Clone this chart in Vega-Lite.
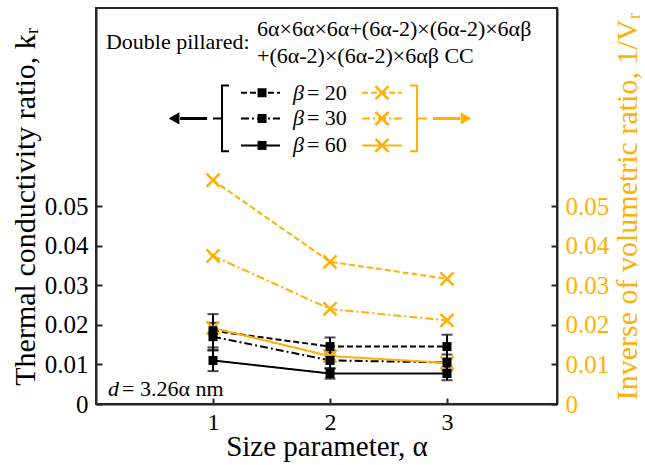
{
  "$schema": "https://vega.github.io/schema/vega-lite/v6.json",
  "width": 461,
  "height": 396,
  "autosize": {"type": "none"},
  "padding": {"left": 96, "top": 8, "right": 88, "bottom": 61},
  "background": "white",
  "config": {
    "font": "Liberation Serif",
    "view": {"stroke": "#262626", "strokeWidth": 2},
    "axis": {
      "grid": false,
      "domainColor": "#262626",
      "domainWidth": 2,
      "tickColor": "#262626",
      "tickWidth": 2,
      "tickSize": -6,
      "labelPadding": 14,
      "labelFont": "Liberation Serif",
      "labelFontSize": 25,
      "labelColor": "black",
      "titleFont": "Liberation Serif",
      "titleFontSize": 30,
      "titleFontWeight": "normal",
      "titleColor": "black"
    },
    "axisBottom": {"labelFontSize": 24, "labelPadding": 12, "titleFontSize": 29},
    "axisRight": {"labelColor": "#FFB000", "titleColor": "#FFB000", "titleAngle": 270, "titleBaseline": "top"},
    "text": {"font": "Liberation Serif", "fontSize": 22, "color": "black"}
  },
  "datasets": {
    "kr": [
      {"x": 1, "beta": "20", "y": 0.0185, "lo": 0.0143, "hi": 0.0227},
      {"x": 2, "beta": "20", "y": 0.0145, "lo": 0.0122, "hi": 0.0168},
      {"x": 3, "beta": "20", "y": 0.0145, "lo": 0.0115, "hi": 0.0175},
      {"x": 1, "beta": "30", "y": 0.0170, "lo": 0.0135, "hi": 0.0205},
      {"x": 2, "beta": "30", "y": 0.0110, "lo": 0.0090, "hi": 0.0130},
      {"x": 3, "beta": "30", "y": 0.0105, "lo": 0.0085, "hi": 0.0125},
      {"x": 1, "beta": "60", "y": 0.0110, "lo": 0.0083, "hi": 0.0137},
      {"x": 2, "beta": "60", "y": 0.0077, "lo": 0.0064, "hi": 0.0090},
      {"x": 3, "beta": "60", "y": 0.0077, "lo": 0.0060, "hi": 0.0092}
    ],
    "vr": [
      {"x": 1, "beta": "20", "y": 0.0565},
      {"x": 2, "beta": "20", "y": 0.0359},
      {"x": 3, "beta": "20", "y": 0.0316},
      {"x": 1, "beta": "30", "y": 0.0374},
      {"x": 2, "beta": "30", "y": 0.0240},
      {"x": 3, "beta": "30", "y": 0.0211},
      {"x": 1, "beta": "60", "y": 0.0192},
      {"x": 2, "beta": "60", "y": 0.0121},
      {"x": 3, "beta": "60", "y": 0.0104}
    ],
    "legLines": [
      {"side": "k", "beta": "20", "x": 1.239, "y": 0.0786},
      {"side": "k", "beta": "20", "x": 1.573, "y": 0.0786},
      {"side": "k", "beta": "30", "x": 1.239, "y": 0.0721},
      {"side": "k", "beta": "30", "x": 1.573, "y": 0.0721},
      {"side": "k", "beta": "60", "x": 1.239, "y": 0.0653},
      {"side": "k", "beta": "60", "x": 1.573, "y": 0.0653},
      {"side": "v", "beta": "20", "x": 2.274, "y": 0.0786},
      {"side": "v", "beta": "20", "x": 2.615, "y": 0.0786},
      {"side": "v", "beta": "30", "x": 2.274, "y": 0.0721},
      {"side": "v", "beta": "30", "x": 2.615, "y": 0.0721},
      {"side": "v", "beta": "60", "x": 2.274, "y": 0.0653},
      {"side": "v", "beta": "60", "x": 2.615, "y": 0.0653}
    ],
    "legSquares": [
      {"beta": "20", "x": 1.419, "y": 0.0786},
      {"beta": "30", "x": 1.419, "y": 0.0721},
      {"beta": "60", "x": 1.419, "y": 0.0653}
    ],
    "legCrosses": [
      {"beta": "20", "x": 2.444, "y": 0.0786},
      {"beta": "30", "x": 2.444, "y": 0.0721},
      {"beta": "60", "x": 2.444, "y": 0.0653}
    ],
    "brackets": [
      {"side": "k", "o": 1, "x": 1.137, "y": 0.0804},
      {"side": "k", "o": 2, "x": 1.077, "y": 0.0804},
      {"side": "k", "o": 3, "x": 1.077, "y": 0.0638},
      {"side": "k", "o": 4, "x": 1.137, "y": 0.0638},
      {"side": "v", "o": 1, "x": 2.684, "y": 0.0804},
      {"side": "v", "o": 2, "x": 2.744, "y": 0.0804},
      {"side": "v", "o": 3, "x": 2.744, "y": 0.0638},
      {"side": "v", "o": 4, "x": 2.684, "y": 0.0638}
    ],
    "stubs": [
      {"side": "k", "x": 1.0, "x2": 1.077, "y": 0.0721},
      {"side": "v", "x": 2.744, "x2": 2.829, "y": 0.0721}
    ],
    "shafts": [
      {"side": "k", "x": 0.718, "x2": 0.949, "y": 0.0721},
      {"side": "v", "x": 2.880, "x2": 3.111, "y": 0.0721}
    ],
    "heads": [
      {"side": "k", "x": 0.667, "y": 0.0721},
      {"side": "v", "x": 3.162, "y": 0.0721}
    ],
    "texts": [
      {"label": "Double pillared:", "x": 0.085, "y": 0.0913},
      {"label": "= 3.26α nm", "x": 0.222, "y": 0.0037},
      {"label": "= 20", "x": 1.803, "y": 0.0786},
      {"label": "= 30", "x": 1.803, "y": 0.0721},
      {"label": "= 60", "x": 1.803, "y": 0.0653}
    ],
    "formula": [
      {"label": "6α×6α×6α+(6α-2)×(6α-2)×6αβ", "x": 1.376, "y": 0.0946},
      {"label": "+(6α-2)×(6α-2)×6αβ CC", "x": 1.376, "y": 0.0878}
    ],
    "italics": [
      {"label": "d", "x": 0.103, "y": 0.0037},
      {"label": "β", "x": 1.684, "y": 0.0786},
      {"label": "β", "x": 1.684, "y": 0.0721},
      {"label": "β", "x": 1.684, "y": 0.0653}
    ]
  },
  "encoding": {
    "x": {
      "field": "x",
      "type": "quantitative",
      "scale": {"domain": [0, 3.94], "nice": false, "zero": false},
      "axis": {"values": [1, 2, 3], "title": "Size parameter, α", "titlePadding": -2}
    }
  },
  "layer": [
    {
      "layer": [
        {
          "data": {"name": "kr"},
          "mark": {"type": "line", "color": "black", "strokeWidth": 2},
          "encoding": {
            "y": {"field": "y", "type": "quantitative", "scale": {"domain": [0, 0.1], "nice": false}, "axis": {"orient": "left", "values": [0, 0.01, 0.02, 0.03, 0.04, 0.05], "labelExpr": "datum.value == 0 ? '0' : format(datum.value, '.2f')", "title": "Thermal conductivity ratio, kᵣ"}},
            "strokeDash": {
              "field": "beta",
              "type": "nominal",
              "scale": {"domain": ["20", "30", "60"], "range": [[6, 3], [8, 3, 2, 3], [1, 0]]},
              "legend": null
            }
          }
        },
        {
          "data": {"name": "kr"},
          "mark": {"type": "rule", "color": "black", "strokeWidth": 2},
          "encoding": {
            "y": {"field": "lo", "type": "quantitative", "scale": {"domain": [0, 0.1], "nice": false}, "axis": {"orient": "left", "values": [0, 0.01, 0.02, 0.03, 0.04, 0.05], "labelExpr": "datum.value == 0 ? '0' : format(datum.value, '.2f')", "title": "Thermal conductivity ratio, kᵣ"}},
            "y2": {"field": "hi"}
          }
        },
        {
          "data": {"name": "kr"},
          "mark": {"type": "tick", "orient": "horizontal", "color": "black", "size": 11, "thickness": 2},
          "encoding": {
            "y": {"field": "lo", "type": "quantitative", "scale": {"domain": [0, 0.1], "nice": false}, "axis": {"orient": "left", "values": [0, 0.01, 0.02, 0.03, 0.04, 0.05], "labelExpr": "datum.value == 0 ? '0' : format(datum.value, '.2f')", "title": "Thermal conductivity ratio, kᵣ"}}
          }
        },
        {
          "data": {"name": "kr"},
          "mark": {"type": "tick", "orient": "horizontal", "color": "black", "size": 11, "thickness": 2},
          "encoding": {
            "y": {"field": "hi", "type": "quantitative", "scale": {"domain": [0, 0.1], "nice": false}, "axis": {"orient": "left", "values": [0, 0.01, 0.02, 0.03, 0.04, 0.05], "labelExpr": "datum.value == 0 ? '0' : format(datum.value, '.2f')", "title": "Thermal conductivity ratio, kᵣ"}}
          }
        },
        {
          "data": {"name": "legLines"},
          "mark": {"type": "line", "strokeWidth": 2},
          "encoding": {
            "y": {"field": "y", "type": "quantitative", "scale": {"domain": [0, 0.1], "nice": false}, "axis": {"orient": "left", "values": [0, 0.01, 0.02, 0.03, 0.04, 0.05], "labelExpr": "datum.value == 0 ? '0' : format(datum.value, '.2f')", "title": "Thermal conductivity ratio, kᵣ"}},
            "strokeDash": {"field": "beta", "type": "nominal", "legend": null},
            "color": {"field": "side", "type": "nominal", "scale": {"domain": ["k", "v"], "range": ["black", "#FFB000"]}, "legend": null},
            "detail": {"field": "beta"}
          }
        },
        {
          "data": {"name": "legSquares"},
          "mark": {"type": "point", "shape": "square", "filled": true, "color": "black", "size": 81, "opacity": 1},
          "encoding": {
            "y": {"field": "y", "type": "quantitative", "scale": {"domain": [0, 0.1], "nice": false}, "axis": {"orient": "left", "values": [0, 0.01, 0.02, 0.03, 0.04, 0.05], "labelExpr": "datum.value == 0 ? '0' : format(datum.value, '.2f')", "title": "Thermal conductivity ratio, kᵣ"}}
          }
        },
        {
          "data": {"name": "legCrosses"},
          "mark": {"type": "point", "shape": "M-1,-1L1,1M-1,1L1,-1", "filled": false, "color": "#FFB000", "size": 170, "strokeWidth": 2.5, "opacity": 1},
          "encoding": {
            "y": {"field": "y", "type": "quantitative", "scale": {"domain": [0, 0.1], "nice": false}, "axis": {"orient": "left", "values": [0, 0.01, 0.02, 0.03, 0.04, 0.05], "labelExpr": "datum.value == 0 ? '0' : format(datum.value, '.2f')", "title": "Thermal conductivity ratio, kᵣ"}}
          }
        },
        {
          "data": {"name": "brackets"},
          "mark": {"type": "line", "strokeWidth": 2},
          "encoding": {
            "y": {"field": "y", "type": "quantitative", "scale": {"domain": [0, 0.1], "nice": false}, "axis": {"orient": "left", "values": [0, 0.01, 0.02, 0.03, 0.04, 0.05], "labelExpr": "datum.value == 0 ? '0' : format(datum.value, '.2f')", "title": "Thermal conductivity ratio, kᵣ"}},
            "order": {"field": "o"},
            "color": {"field": "side", "type": "nominal", "legend": null}
          }
        },
        {
          "data": {"name": "stubs"},
          "mark": {"type": "rule", "strokeWidth": 2},
          "encoding": {
            "x2": {"field": "x2"},
            "y": {"field": "y", "type": "quantitative", "scale": {"domain": [0, 0.1], "nice": false}, "axis": {"orient": "left", "values": [0, 0.01, 0.02, 0.03, 0.04, 0.05], "labelExpr": "datum.value == 0 ? '0' : format(datum.value, '.2f')", "title": "Thermal conductivity ratio, kᵣ"}},
            "color": {"field": "side", "type": "nominal", "legend": null}
          }
        },
        {
          "data": {"name": "shafts"},
          "mark": {"type": "rule", "strokeWidth": 3},
          "encoding": {
            "x2": {"field": "x2"},
            "y": {"field": "y", "type": "quantitative", "scale": {"domain": [0, 0.1], "nice": false}, "axis": {"orient": "left", "values": [0, 0.01, 0.02, 0.03, 0.04, 0.05], "labelExpr": "datum.value == 0 ? '0' : format(datum.value, '.2f')", "title": "Thermal conductivity ratio, kᵣ"}},
            "color": {"field": "side", "type": "nominal", "legend": null}
          }
        },
        {
          "data": {"name": "heads"},
          "mark": {"type": "point", "filled": true, "size": 150, "opacity": 1},
          "encoding": {
            "y": {"field": "y", "type": "quantitative", "scale": {"domain": [0, 0.1], "nice": false}, "axis": {"orient": "left", "values": [0, 0.01, 0.02, 0.03, 0.04, 0.05], "labelExpr": "datum.value == 0 ? '0' : format(datum.value, '.2f')", "title": "Thermal conductivity ratio, kᵣ"}},
            "color": {"field": "side", "type": "nominal", "legend": null},
            "shape": {"field": "side", "type": "nominal", "scale": {"domain": ["k", "v"], "range": ["triangle-left", "triangle-right"]}, "legend": null}
          }
        },
        {
          "data": {"name": "texts"},
          "mark": {"type": "text", "align": "left", "baseline": "middle", "fontSize": 22},
          "encoding": {
            "y": {"field": "y", "type": "quantitative", "scale": {"domain": [0, 0.1], "nice": false}, "axis": {"orient": "left", "values": [0, 0.01, 0.02, 0.03, 0.04, 0.05], "labelExpr": "datum.value == 0 ? '0' : format(datum.value, '.2f')", "title": "Thermal conductivity ratio, kᵣ"}},
            "text": {"field": "label"}
          }
        },
        {
          "data": {"name": "formula"},
          "mark": {"type": "text", "align": "left", "baseline": "middle", "fontSize": 22},
          "encoding": {
            "y": {"field": "y", "type": "quantitative", "scale": {"domain": [0, 0.1], "nice": false}, "axis": {"orient": "left", "values": [0, 0.01, 0.02, 0.03, 0.04, 0.05], "labelExpr": "datum.value == 0 ? '0' : format(datum.value, '.2f')", "title": "Thermal conductivity ratio, kᵣ"}},
            "text": {"field": "label"}
          }
        },
        {
          "data": {"name": "italics"},
          "mark": {"type": "text", "align": "left", "baseline": "middle", "fontSize": 22, "fontStyle": "italic"},
          "encoding": {
            "y": {"field": "y", "type": "quantitative", "scale": {"domain": [0, 0.1], "nice": false}, "axis": {"orient": "left", "values": [0, 0.01, 0.02, 0.03, 0.04, 0.05], "labelExpr": "datum.value == 0 ? '0' : format(datum.value, '.2f')", "title": "Thermal conductivity ratio, kᵣ"}},
            "text": {"field": "label"}
          }
        }
      ]
    },
    {
      "data": {"name": "vr"},
      "layer": [
        {
          "mark": {"type": "line", "color": "#FFB000", "strokeWidth": 2},
          "encoding": {
            "y": {"field": "y", "type": "quantitative", "scale": {"domain": [0, 0.1], "nice": false}, "axis": {"orient": "right", "values": [0, 0.01, 0.02, 0.03, 0.04, 0.05], "labelExpr": "datum.value == 0 ? '0' : format(datum.value, '.2f')", "title": "Inverse of volumetric ratio, 1/Vᵣ"}},
            "strokeDash": {"field": "beta", "type": "nominal", "scale": {"domain": ["20", "30", "60"], "range": [[6, 3], [8, 3, 2, 3], [1, 0]]}, "legend": null}
          }
        },
        {
          "mark": {"type": "point", "shape": "M-1,-1L1,1M-1,1L1,-1", "filled": false, "color": "#FFB000", "size": 170, "strokeWidth": 2.5, "opacity": 1},
          "encoding": {
            "y": {"field": "y", "type": "quantitative", "scale": {"domain": [0, 0.1], "nice": false}, "axis": {"orient": "right", "values": [0, 0.01, 0.02, 0.03, 0.04, 0.05], "labelExpr": "datum.value == 0 ? '0' : format(datum.value, '.2f')", "title": "Inverse of volumetric ratio, 1/Vᵣ"}}
          }
        }
      ]
    },
    {
      "data": {"name": "kr"},
      "mark": {"type": "point", "shape": "square", "filled": true, "color": "black", "size": 81, "opacity": 1},
      "encoding": {
        "y": {"field": "y", "type": "quantitative", "scale": {"domain": [0, 0.1], "nice": false}, "axis": null}
      }
    }
  ],
  "resolve": {"scale": {"y": "independent"}}
}
